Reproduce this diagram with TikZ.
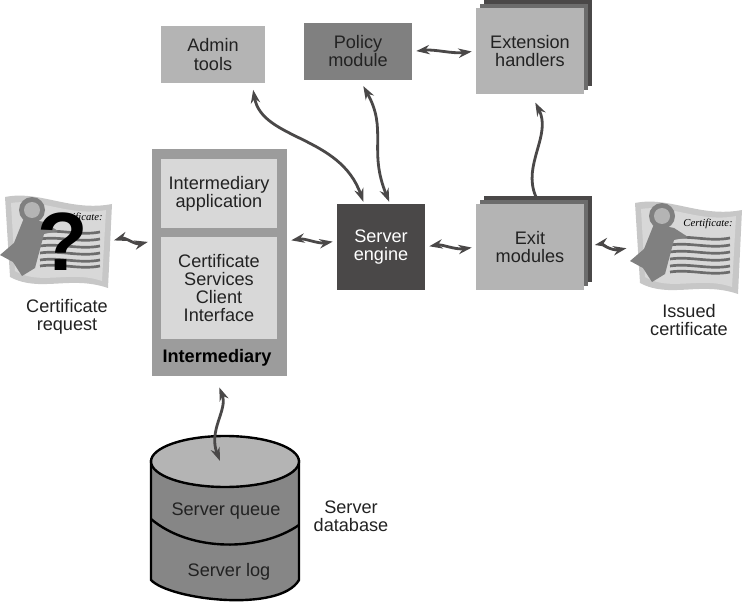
\documentclass[tikz,border=0pt]{standalone}
\usepackage{fontspec}
\setmainfont{Liberation Sans}
\newfontfamily\certfont{Liberation Serif}
\usepackage{xcolor}
\usetikzlibrary{arrows.meta}

\definecolor{lightbox}{HTML}{B4B4B4}
\definecolor{midbox}{HTML}{808080}
\definecolor{sheetgray}{HTML}{6C6C6C}
\definecolor{darkbox}{HTML}{4A4848}
\definecolor{paleface}{HTML}{D8D8D8}
\definecolor{frameface}{HTML}{9C9C9C}
\definecolor{linkgray}{HTML}{4A4848}
\definecolor{inkgray}{HTML}{222222}

\tikzset{
	boxsize/.style 2 args={minimum width=#1*0.75pt,minimum height=#2*0.75pt,inner sep=0pt},
	label/.style={font=\fontsize{13.6}{13.5}\selectfont,text=inkgray,align=center,inner sep=0pt},
	lightnode/.style={label,fill=lightbox},
	conn/.style={line width=2.1pt,draw=linkgray,shorten <=3pt,shorten >=3pt,
		{Stealth[length=10pt,width=7pt]}-{Stealth[length=10pt,width=7pt]}},
	pics/certpaper/.style={code={
		\fill[lightbox!75!white] (5,197) .. controls (40,190) and (70,212) .. (112,204) -- (108,288) .. controls (70,275) and (40,293) .. (10,277) -- cycle;
		\fill[paleface] (11,203) .. controls (40,198) and (70,217) .. (106,210) -- (102,281) .. controls (70,270) and (40,286) .. (15,271) -- cycle;
		\foreach \y in {232,239,246,253,260,266}
		\draw[line width=2pt,sheetgray] (40,\y) .. controls (60,\y-3) and (80,\y+4) .. (100,\y);
		\fill[midbox] (24,218) -- (44,222) -- (58,231) -- (44,234) -- (35,268) -- (22,276) -- (13,262) -- (0,255) -- (14,243) -- cycle;
		\fill[midbox] (32,210) circle (13);
		\fill[lightbox] (32,210) circle (8);
		\node (-title) at (78,218) {\certfont\itshape\fontsize{8}{8}\selectfont Certificate:};
		\coordinate (-east) at (112,241);
		\coordinate (-west) at (3,241);
	}},
}

\begin{document}
\begin{tikzpicture}[x=0.75pt,y=-0.75pt]
	\useasboundingbox (0,0) rectangle (743,606);
	% stacked sheets behind the two module boxes
	\foreach \y in {8,204}{
		\fill[darkbox] (484,\y-8) rectangle (592,\y+78);
		\fill[sheetgray] (480,\y-4) rectangle (588,\y+82);
	}
	\node[lightnode,boxsize={104}{57}] (admin) at (213,54.5) {Admin\\[0.5pt]tools};
	\node[label,fill=midbox,boxsize={108}{57}] (policy) at (358,51.5) {Policy\\module};
	\node[lightnode,boxsize={108}{86}] (extension) at (530,51) {Extension\\handlers};
	\node[label,fill=darkbox,text=white,boxsize={88}{86}] (engine) at (381,247) {Server\\engine};
	\node[lightnode,boxsize={108}{86}] (exit) at (530,247) {Exit\\modules};
	% intermediary frame and its two panels
	\node[fill=frameface,boxsize={135}{227}] (intermediary) at (219.5,262.5) {};
	\node[label,fill=paleface,boxsize={116}{69}] (application) at (219,193.5) {Intermediary\\application};
	\node[label,fill=paleface,boxsize={116}{102}] (client) at (219,288) {Certificate\\Services\\Client\\Interface};
	\node[label,font=\fontsize{13.6}{13.5}\selectfont\bfseries,text=black] (intername) at (217,358) {Intermediary};
	% database cylinder
	\filldraw[line width=1.8pt,fill=midbox!95!white,draw=black] (151,461) -- (151,580) .. controls (170,600) and (280,613) .. (299,580) -- (299,461) -- cycle;
	\draw[line width=1.8pt,black] (151,519) .. controls (190,552) and (260,552) .. (299,525);
	\filldraw[line width=1.8pt,fill=lightbox,draw=black] (225,461.5) ellipse [x radius=74,y radius=25.5];
	\coordinate (dbtop) at (220,461);
	\node[label] (queue) at (226,511) {Server queue};
	\node[label] (log) at (229,572) {Server log};
	\node[label] (dbname) at (351,516) {Server\\database};
	% certificates
	\pic (request) at (0,0) {certpaper};
	\node[font=\bfseries\fontsize{62}{62}\selectfont,text=black,inner sep=0pt] (mark) at (63,242) {?};
	\node[label] (requestname) at (67,317) {Certificate\\request};
	\pic (issued) at (630,6) {certpaper};
	\node[label] (issuedname) at (689,320) {Issued\\certificate};
	% connectors
	\draw[conn,shorten <=1.5pt] (request-east) .. controls (125,237) and (135,245) .. (intermediary.west |- 0,241);
	\draw[conn] (intermediary.east |- 0,241) .. controls (305,238) and (318,244) .. (engine.west |- 0,241);
	\draw[conn] (engine.east) .. controls (442,244) and (455,250) .. (exit.west);
	\draw[conn,shorten <=8pt,shorten >=5pt] (exit.east) .. controls (600,244) and (612,251) .. (issued-west);
	\draw[conn] (policy.east) .. controls (435,49) and (452,54) .. (extension.west);
	\draw[conn,shorten <=5pt,shorten >=1.5pt] (252,0 |- admin.south) .. controls (262,140) and (340,135) .. (364,0 |- engine.north);
	\draw[conn,shorten <=5pt,shorten >=1.5pt] (360,0 |- policy.south) .. controls (388,130) and (368,150) .. (390,0 |- engine.north);
	\draw[line width=2.1pt,draw=linkgray,shorten <=6pt,shorten >=7pt,-{Stealth[length=10pt,width=7pt]}] (539,0 |- exit.north) .. controls (522,165) and (552,135) .. (531,0 |- extension.south);
	\draw[conn,shorten <=9pt,shorten >=0pt] (215,0 |- intermediary.south) .. controls (228,410) and (208,430) .. (dbtop);
\end{tikzpicture}
\end{document}
